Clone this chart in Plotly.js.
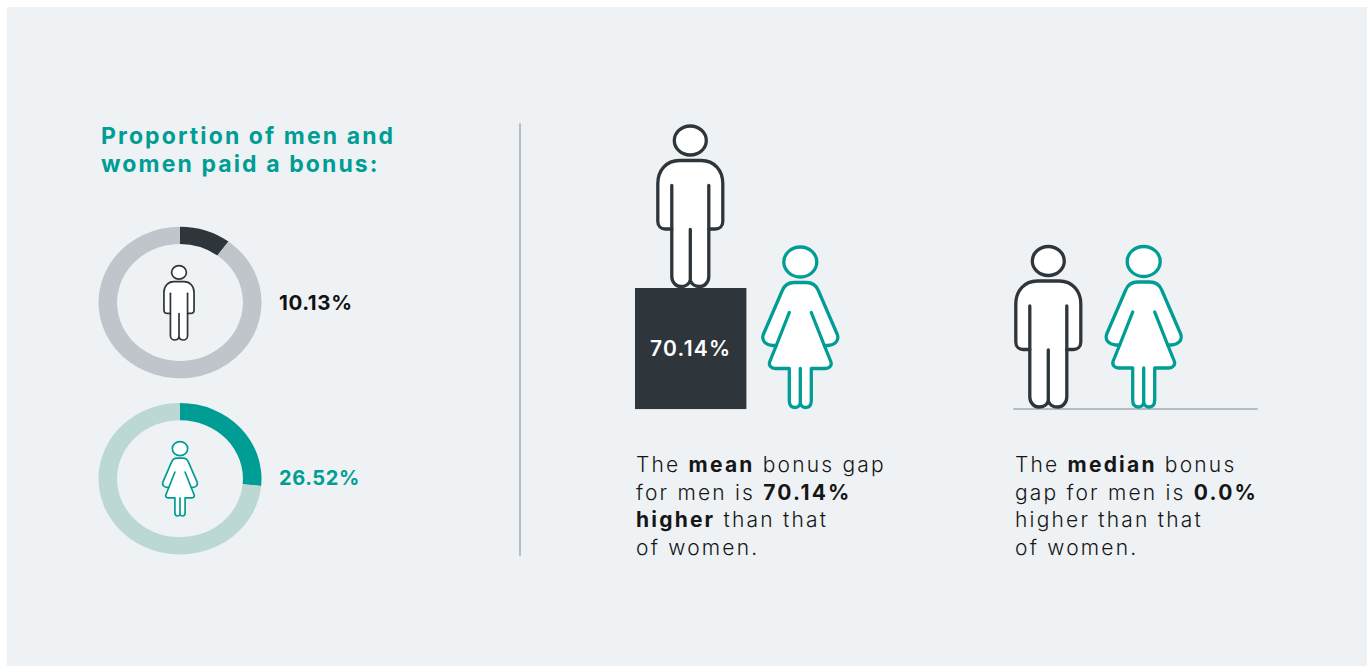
<!DOCTYPE html>
<html>
<head>
<meta charset="utf-8">
<script src="https://cdn.plot.ly/plotly-3.0.1.min.js"></script>
<style>
  html, body { margin: 0; padding: 0; background: #fff; overflow: hidden; }
  #chart { width: 1370px; height: 666px; }
  .shapelayer path { stroke-linecap: round; stroke-linejoin: round; }
  text.annotation-text { letter-spacing: 2.2px; }
  g.annotation[data-index="0"] text.annotation-text,
  g.annotation[data-index="1"] text.annotation-text { letter-spacing: 2.1px; }
  g.annotation[data-index="2"] text.annotation-text,
  g.annotation[data-index="3"] text.annotation-text { letter-spacing: 0.6px; }
  text.bartext { letter-spacing: 1.3px; }
  /* the rings are slightly flattened */
  .pielayer .trace:nth-child(1) { transform-origin: 180px 302.5px; transform: scaleY(0.93); }
  .pielayer .trace:nth-child(2) { transform-origin: 180px 478.7px; transform: scaleY(0.93); }
</style>
</head>
<body>
<div id="chart"></div>
<script>
const W = 1370, H = 666;

// Bonus figures
const menPaidBonus = [10.13, 89.87];
const womenPaidBonus = [26.52, 73.48];
const meanGapLabels = ['Mean bonus gap'];
const meanGapValues = [70.14];

const DARK = '#2e363b', TEAL = '#009d94', PANEL = '#eef2f5';
const GREY_RING = '#bfc5ca', TEAL_RING = '#bcd8d5', RULE = '#b7bcc0';
const FONT = 'Inter, Lato, sans-serif';

const px = x => x / W;
const py = y => 1 - y / H;

// Outline of each pictogram, in a local frame: x from the centre line, y down from the head top.
const manParts = [
  { closed: true, fill: true, pts: [
    ['M', -11, 36], ['L', 11, 36], ['C', 24, 36, 32.5, 46, 32.5, 59], ['L', 32.5, 97],
    ['C', 32.5, 102, 29, 104.5, 25, 104.5], ['L', 18.5, 104.5], ['L', 18.5, 152],
    ['C', 18.5, 158, 14, 162, 9.5, 162], ['C', 5, 162, 1.5, 160, 0, 156],
    ['C', -1.5, 160, -5, 162, -9.5, 162], ['C', -14, 162, -18.5, 158, -18.5, 152],
    ['L', -18.5, 104.5], ['L', -25, 104.5], ['C', -29, 104.5, -32.5, 102, -32.5, 97],
    ['L', -32.5, 59], ['C', -32.5, 46, -24, 36, -11, 36]
  ]},
  { pts: [['M', 18.5, 61], ['L', 18.5, 104.5]] },
  { pts: [['M', -18.5, 61], ['L', -18.5, 104.5]] },
  { pts: [['M', 0, 105], ['L', 0, 156]] }
];

const womanParts = [
  { closed: true, fill: true, pts: [
    ['M', -6, 37], ['L', 6, 37], ['C', 12, 37, 16, 40, 18, 45], ['L', 37, 89],
    ['C', 39, 95, 35, 99.5, 28, 100], ['L', 24, 100], ['L', 30.5, 116],
    ['C', 32, 120, 29, 123, 25, 123], ['L', 11, 123], ['L', 11, 155],
    ['C', 11, 160, 9, 162, 5.5, 162], ['C', 3, 162, 1, 161, 0, 158],
    ['C', -1, 161, -3, 162, -5.5, 162], ['C', -9, 162, -11, 160, -11, 155],
    ['L', -11, 123], ['L', -25, 123], ['C', -29, 123, -32, 120, -30.5, 116],
    ['L', -24, 100], ['L', -28, 100], ['C', -35, 99.5, -39, 95, -37, 89],
    ['L', -18, 45], ['C', -16, 40, -12, 37, -6, 37]
  ]},
  { pts: [['M', 11, 67], ['L', 24, 100]] },
  { pts: [['M', -11, 67], ['L', -24, 100]] },
  { pts: [['M', 0, 123], ['L', 0, 158]] }
];

function partPath(part, cx, top, k) {
  const cmds = part.pts.map(seg => {
    const out = [seg[0]];
    for (let i = 1; i < seg.length; i += 2) {
      out.push(px(cx + seg[i] * k).toFixed(5) + ',' + py(top + seg[i + 1] * k).toFixed(5));
    }
    return out[0] + ' ' + out.slice(1).join(' ');
  });
  return cmds.join(' ') + (part.closed ? ' Z' : '');
}

function figure(parts, headRx, headRy, cx, top, k, color, lw) {
  const list = [{
    type: 'circle', xref: 'paper', yref: 'paper',
    x0: px(cx - headRx * k), x1: px(cx + headRx * k),
    y0: py(top + (1.5 + 2 * headRy) * k), y1: py(top + 1.5 * k),
    fillcolor: '#fff', line: { color, width: lw }
  }];
  parts.forEach(p => list.push({
    type: 'path', xref: 'paper', yref: 'paper',
    path: partPath(p, cx, top, k),
    fillcolor: p.fill ? '#fff' : 'rgba(0,0,0,0)',
    line: { color, width: lw }
  }));
  return list;
}

const man = (cx, top, k, lw) => figure(manParts, 16, 14.5, cx, top, k, DARK, lw);
const woman = (cx, top, k, lw) => figure(womanParts, 16.5, 15, cx, top, k, TEAL, lw);

const shapes = [
  // panel behind everything
  { type: 'rect', layer: 'below', xref: 'paper', yref: 'paper', x0: px(7), x1: px(1367), y0: py(666), y1: py(7),
    fillcolor: PANEL, line: { width: 0 } },
  // divider between the two halves
  { type: 'line', xref: 'paper', yref: 'paper', x0: px(520), x1: px(520), y0: py(124), y1: py(555),
    line: { color: RULE, width: 2 } },
  // floor under the median pair
  { type: 'line', xref: 'paper', yref: 'paper', x0: px(1014), x1: px(1257), y0: py(409), y1: py(409),
    line: { color: RULE, width: 2 } },
  ...man(179, 265, 0.463, 1.7),
  ...woman(180, 441, 0.463, 1.7),
  ...man(690.3, 124.5, 1, 3.3),
  ...woman(800.3, 245.5, 1, 3.3),
  ...man(1048.3, 245, 1, 3.3),
  ...woman(1143.7, 245, 1, 3.3)
];

function label(x, y, text, size, color, weight) {
  return { xref: 'paper', yref: 'paper', x: px(x), y: py(y), xanchor: 'left', yanchor: 'middle',
    showarrow: false, align: 'left', text, borderpad: 0,
    font: { family: FONT, size, color, weight: weight || 400 } };
}

const INK = '#161616';
const annotations = [
  label(100, 135.5, '<b>Proportion of men and</b>', 23, TEAL),
  label(100, 163.5, '<b>women paid a bonus:</b>', 23, TEAL),
  label(278, 302, '<b>10.13%</b>', 20.5, '#111'),
  label(278, 478, '<b>26.52%</b>', 20, TEAL),
  label(635, 464.5, 'The <b>mean</b> bonus gap', 21, INK, 300),
  label(635, 492.5, 'for men is <b>70.14%</b>', 21, INK, 300),
  label(635, 519.5, '<b>higher</b> than that', 21, INK, 300),
  label(635, 547.5, 'of women.', 21, INK, 300),
  label(1014, 464.5, 'The <b>median</b> bonus', 21, INK, 300),
  label(1014, 492.5, 'gap for men is <b>0.0%</b>', 21, INK, 300),
  label(1014, 519.5, 'higher than that', 21, INK, 300),
  label(1014, 547.5, 'of women.', 21, INK, 300)
];

function ring(values, cy, strong, pale) {
  const r = 81.5;
  return {
    type: 'pie', values, sort: false, direction: 'clockwise', rotation: 0, hole: 0.772,
    textinfo: 'none', hoverinfo: 'skip', showlegend: false,
    marker: { colors: [strong, pale], line: { width: 0 } },
    domain: { x: [px(180 - r), px(180 + r)], y: [py(cy + r), py(cy - r)] }
  };
}

const traces = [
  ring(menPaidBonus, 302.5, DARK, GREY_RING),
  ring(womenPaidBonus, 478.7, TEAL, TEAL_RING),
  {
    type: 'bar', x: [690.7], y: meanGapValues, width: [111.4], customdata: meanGapLabels,
    marker: { color: DARK, line: { width: 0 } },
    text: meanGapValues.map(v => v.toFixed(2) + '%'),
    textposition: 'inside', insidetextanchor: 'middle', textangle: 0, constraintext: 'none',
    insidetextfont: { family: FONT, size: 21, color: '#fff', weight: 600 },
    hoverinfo: 'skip', showlegend: false
  }
];

const layout = {
  width: W, height: H,
  margin: { l: 0, r: 0, t: 0, b: 0, pad: 0 },
  paper_bgcolor: '#fff', plot_bgcolor: 'rgba(0,0,0,0)',
  showlegend: false,
  xaxis: { visible: false, range: [0, W], fixedrange: true },
  // floor of the block sits at 409px; 70.14 reaches the block's top at 288px
  yaxis: { visible: false, domain: [1 - 409.3 / H, 1], range: [0, 70.14 * 409.3 / 121.3], fixedrange: true },
  shapes, annotations
};

Plotly.newPlot('chart', traces, layout, { displayModeBar: false, staticPlot: true });
</script>
</body>
</html>
